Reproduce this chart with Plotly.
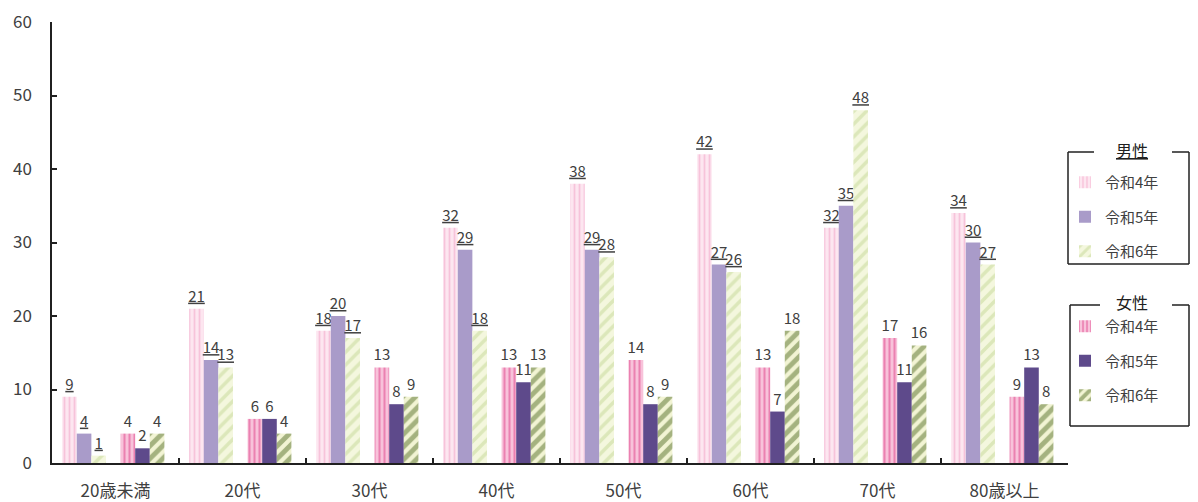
import plotly.graph_objects as go

categories = ["20歳未満", "20代", "30代", "40代", "50代", "60代", "70代", "80歳以上"]
male_r4 = [9, 21, 18, 32, 38, 42, 32, 34]
male_r5 = [4, 14, 20, 29, 29, 27, 35, 30]
male_r6 = [1, 13, 17, 18, 28, 26, 48, 27]
female_r4 = [4, 6, 13, 13, 14, 13, 17, 9]
female_r5 = [2, 6, 8, 11, 8, 7, 11, 13]
female_r6 = [4, 4, 9, 13, 9, 18, 16, 8]
series_names = ["令和4年", "令和5年", "令和6年"]

OFF = 8  # page body margin
W, H = 1198 - OFF, 502 - OFF
L, R, T, B = 52 - OFF, 1068 - OFF, 22 - OFF, 463 - OFF
FONT = "Noto Sans CJK JP, Noto Sans, sans-serif"
TXT = "#404040"

bw = 0.115
offsets = [-0.42, -0.305, -0.19, 0.04, 0.155, 0.27]

styles = [
    dict(color="#fde6f0", pattern=dict(shape="|", fgcolor="#f2a0c4", bgcolor="#fde6f0", size=5, solidity=0.35)),
    dict(color="#a99bc9"),
    dict(color="#f2f6da", pattern=dict(shape="/", fgcolor="#c3d795", bgcolor="#f4f7de", size=9, solidity=0.4)),
    dict(color="#f8c2da", pattern=dict(shape="|", fgcolor="#dd3f88", bgcolor="#f8c2da", size=5, solidity=0.4)),
    dict(color="#5e4a8b"),
    dict(color="#f2f4d4", pattern=dict(shape="/", fgcolor="#566f2a", bgcolor="#f2f4d4", size=9, solidity=0.55)),
]

data = [male_r4, male_r5, male_r6, female_r4, female_r5, female_r6]

fig = go.Figure()
for i, vals in enumerate(data):
    is_male = i < 3
    texts = [f"<u>{v}</u>" if is_male else str(v) for v in vals]
    fig.add_trace(go.Bar(
        x=categories, y=vals, name=series_names[i % 3],
        width=bw, offset=offsets[i],
        marker=dict(line=dict(width=0), **styles[i]),
        text=texts, textposition="outside", constraintext="none",
        textfont=dict(size=15, color=TXT, family=FONT),
        cliponaxis=False,
        legend="legend" if is_male else "legend2",
        legendgroup=f"g{i}",
        hoverinfo="skip",
    ))

# screen pixel -> paper coordinates
def px_x(p):
    return (p - OFF - L) / (R - L)

def px_y(p):
    return (B - (p - OFF)) / (B - T)

shapes = []
def box(x0, x1, y0, y1, gap0, gap1):
    segs = [
        (x0, y0, gap0, y0), (gap1, y0, x1, y0),
        (x0, y0, x0, y1), (x1, y0, x1, y1), (x0, y1, x1, y1),
    ]
    for a, b, c, d in segs:
        shapes.append(dict(type="line", xref="paper", yref="paper",
                           x0=px_x(a), y0=px_y(b), x1=px_x(c), y1=px_y(d),
                           line=dict(color="#202020", width=1.5)))

box(1068, 1189, 152, 264, 1094, 1172)
box(1070, 1189, 305, 426, 1100, 1172)

annotations = [
    dict(text="<u>男性</u>", xref="paper", yref="paper", x=px_x(1132), y=px_y(150),
         showarrow=False, font=dict(size=16, color="#202020", family=FONT), xanchor="center", yanchor="middle"),
    dict(text="女性", xref="paper", yref="paper", x=px_x(1132), y=px_y(302),
         showarrow=False, font=dict(size=16, color="#202020", family=FONT), xanchor="center", yanchor="middle"),
]

legend_common = dict(
    xref="container", yref="container", xanchor="left", yanchor="top",
    bgcolor="rgba(0,0,0,0)", borderwidth=0,
    font=dict(size=15, color=TXT, family=FONT),
    traceorder="grouped", tracegroupgap=12, itemwidth=30,
)

fig.update_layout(
    width=W, height=H,
    margin=dict(l=L, r=W - R, t=T, b=H - B, autoexpand=False),
    paper_bgcolor="white", plot_bgcolor="white",
    barmode="overlay",
    showlegend=True,
    font=dict(family=FONT, color=TXT),
    xaxis=dict(
        type="category", showline=True, linecolor="#202020", linewidth=1.5,
        ticks="inside", tickson="boundaries", ticklen=5, tickcolor="#202020", tickwidth=1.5,
        tickfont=dict(size=17, color=TXT, family=FONT), showgrid=False,
        range=[-0.5, 7.5], automargin=False, ticklabelstandoff=12,
        ticklabeloverflow="allow",
    ),
    yaxis=dict(
        range=[0, 60], dtick=10, showline=True, linecolor="#202020", linewidth=1.5,
        ticks="inside", ticklen=5, tickcolor="#202020", tickwidth=1.5,
        tickfont=dict(size=17, color=TXT, family=FONT), showgrid=False, zeroline=False,
        ticklabelstandoff=15, automargin=False, ticklabeloverflow="allow",
    ),
    legend=dict(x=1057 / W, y=1 - 158 / H, **legend_common),
    legend2=dict(x=1057 / W, y=1 - 302 / H, **legend_common),
    shapes=shapes,
    annotations=annotations,
)

fig.write_html("out.html")
